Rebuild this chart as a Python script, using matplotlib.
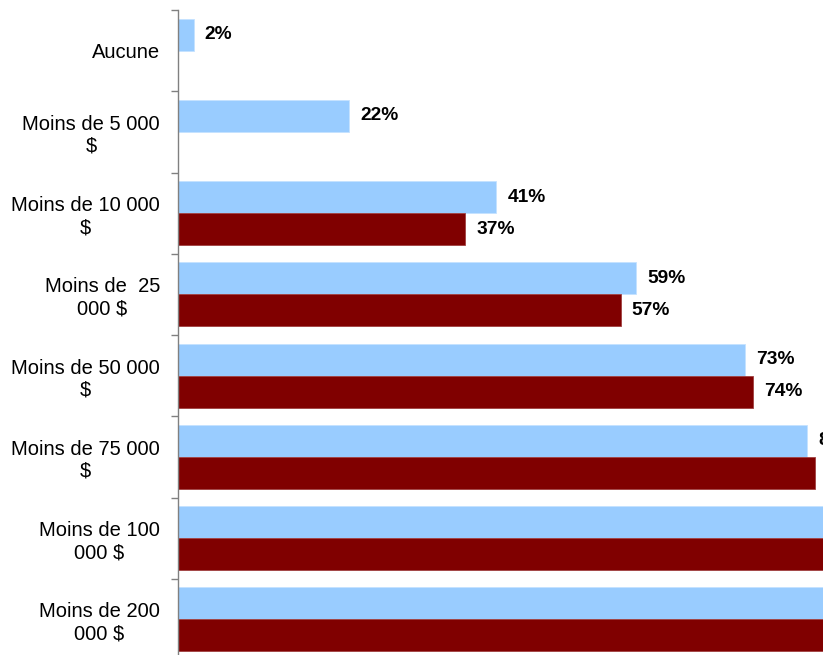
import numpy as np
import matplotlib
matplotlib.use("Agg")
import matplotlib.pyplot as plt

plt.rcParams['font.family'] = ['Liberation Sans', 'DejaVu Sans']

categories = [
    "Aucune",
    "Moins de 5 000\n$",
    "Moins de 10 000\n$",
    "Moins de  25\n000 $",
    "Moins de 50 000\n$",
    "Moins de 75 000\n$",
    "Moins de 100\n000 $",
    "Moins de 200\n000 $",
]
# light series (top bar of each pair) and dark series (bottom bar)
serie_claire = [2, 22, 41, 59, 73, 81, 89, 96]
serie_foncee = [np.nan, np.nan, 37, 57, 74, 82, 90, 97]

color_light = "#99CCFF"
color_dark = "#800000"

fig = plt.figure(figsize=(8.23, 6.55), dpi=100)
# axes run past the right and bottom edges of the figure on purpose
ax = fig.add_axes([178 / 823, -5 / 655, 776.5 / 823, 650 / 655])

y = np.arange(len(categories))
h = 0.394

ax.barh(y - h / 2, serie_claire, height=h, color=color_light,
        edgecolor="#c4e2ff", linewidth=0.6)
ax.barh(y + h / 2, serie_foncee, height=h, color=color_dark,
        edgecolor="#a04040", linewidth=0.6)

# data value sitting at the right edge of the figure
x_right = (823 - 178) / 776.5 * 100


def label_bars(values, offset):
    for i, v in enumerate(values):
        # labels that would start past the edge are not drawn at all
        if np.isnan(v) or v + 1.4 >= x_right:
            continue
        ax.annotate(f"{v:g}%", (v, i + offset), xytext=(8, 0),
                    textcoords="offset points", va="center", ha="left",
                    fontsize=13.8, fontweight="bold", annotation_clip=False)


label_bars(serie_claire, -h / 2)
label_bars(serie_foncee, h / 2)

ax.set_xlim(0, 100)
ax.set_ylim(len(categories) - 0.5, -0.5)

ax.set_yticks(y)
ax.set_yticklabels(categories, fontsize=14.5)
for lab in ax.get_yticklabels():
    lab.set_multialignment("center")
ax.tick_params(axis="y", which="major", length=0, pad=13)
ax.set_yticks(np.arange(-0.5, len(categories), 1), minor=True)
ax.tick_params(axis="y", which="minor", length=5, width=1, color="#808080",
               direction="out")
ax.set_xticks([])

for side in ["top", "right", "bottom"]:
    ax.spines[side].set_visible(False)
ax.spines["left"].set_color("#808080")
ax.spines["left"].set_linewidth(1)

fig.savefig("out.png", dpi=100)
